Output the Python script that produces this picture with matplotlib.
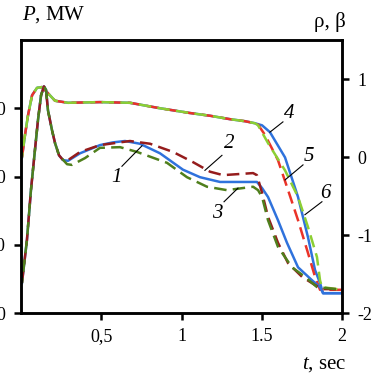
import numpy as np
import matplotlib
matplotlib.use('Agg')
import matplotlib.pyplot as plt

# 時間軸 (sec) と出力 P (MW) のデータ
# 上側グループ (4, 5, 6) の共通部分
t_up = [0.006, 0.025, 0.044, 0.069, 0.10, 0.131, 0.168, 0.212, 0.293, 0.492,
        0.679, 0.866, 1.053, 1.178, 1.302, 1.396, 1.458]
p_up = [228, 261, 290, 319, 330, 331, 322, 311, 308, 309,
        308, 300, 293, 289, 284, 281, 278]

t4 = [1.502, 1.551, 1.645, 1.726, 1.788, 1.832, 1.863, 1.882, 2.0]
p4 = [275, 265, 228, 170, 111, 63, 44, 29, 29]
t5 = [1.477, 1.520, 1.601, 1.664, 1.726, 1.788, 1.832, 1.863, 2.0]
p5 = [276, 261, 224, 180, 136, 88, 53, 34, 34]
t6 = [1.477, 1.539, 1.645, 1.726, 1.788, 1.844, 1.863, 1.875, 2.0]
p6 = [275, 249, 209, 170, 126, 82, 48, 38, 34]

# 下側グループ (1, 2, 3) の共通部分 (立ち上がり)
t_low = [0.006, 0.037, 0.062, 0.087, 0.106, 0.125, 0.143, 0.156, 0.168,
         0.193, 0.212, 0.237, 0.262]
p_low = [44, 107, 180, 239, 283, 319, 332, 327, 297, 268, 249, 231, 224]

t1 = [0.293, 0.368, 0.492, 0.573, 0.648, 0.741, 0.866, 1.009, 1.115, 1.24,
      1.47, 1.502, 1.539, 1.601, 1.657, 1.726, 1.813, 1.863, 1.882, 2.0]
p1 = [223, 234, 246, 250, 252, 248, 234, 210, 199, 192,
      192, 183, 170, 136, 103, 67, 48, 38, 29, 29]
t2 = [0.293, 0.368, 0.492, 0.679, 0.804, 0.947, 1.072, 1.178, 1.259, 1.446,
      1.47, 1.502, 1.539, 1.601, 1.664, 1.751, 1.832, 1.875, 2.0]
p2 = [224, 236, 246, 252, 248, 236, 221, 207, 202, 205,
      202, 176, 141, 103, 73, 53, 41, 35, 35]
t3 = [0.287, 0.318, 0.399, 0.492, 0.617, 0.723, 0.91, 1.034, 1.159, 1.283,
      1.446, 1.477, 1.502, 1.539, 1.601, 1.688, 1.769, 1.844, 2.0]
p3 = [218, 217, 227, 242, 243, 236, 220, 199, 185, 180,
      185, 180, 170, 136, 97, 67, 53, 38, 34]

x_ticks = [0.5, 1, 1.5, 2]
x_ticklabels = ['0,5', '1', '1.5', '2']
p_ticks = [0, 100, 200, 300]
rho_ticks = [-2, -1, 0, 1]
rho_ticklabels = ['-2', '-1', '0', '1']

blue = '#2f72dc'
red = '#ea3328'
lgreen = '#8ccf33'
dred = '#951c1c'
olive = '#4f7f1c'

plt.rcParams['font.family'] = ['Liberation Serif', 'DejaVu Serif']
plt.rcParams['mathtext.fontset'] = 'custom'
plt.rcParams['mathtext.rm'] = 'Liberation Serif'
plt.rcParams['mathtext.it'] = 'Liberation Serif:italic'

fig = plt.figure(figsize=(3.78, 3.78), dpi=100)
ax = fig.add_axes([21 / 378, 1 - 313 / 378, 321 / 378, 273 / 378])

lw = 1.8
dash = (0, (5, 2.5))
dash_off = (3, (5, 2.5))
# 上側グループ
ax.plot(t_up + t4, p_up + p4, color=blue, lw=lw)
ax.plot(t_up + t5, p_up + p5, color=red, lw=lw, linestyle=dash)
ax.plot(t_up + t6, p_up + p6, color=lgreen, lw=lw, linestyle=dash_off)
# 下側グループ
ax.plot(t_low + t1, p_low + p1, color=blue, lw=lw)
ax.plot(t_low + t2, p_low + p2, color=dred, lw=lw, linestyle=dash)
ax.plot(t_low[:-1] + t3, p_low[:-1] + p3, color=olive, lw=lw, linestyle=dash_off)

ax.set_xlim(0, 2)
ax.set_ylim(0, 400)
ax.set_xticks(x_ticks)
ax.set_xticklabels(x_ticklabels)
ax.set_yticks(p_ticks)

ax2 = ax.twinx()
ax2.set_ylim(-2, 1.5)
ax2.set_yticks(rho_ticks)
ax2.set_yticklabels(rho_ticklabels)

for a in (ax, ax2):
    for s in a.spines.values():
        s.set_linewidth(1.8)
    a.tick_params(width=1.8, length=5, labelsize=13, pad=6)

# 曲線番号と引き出し線
labels = [
    ('1', (0.598, 198), (0.629, 215), (0.754, 245)),
    ('2', (1.296, 248), (1.252, 231), (1.146, 209)),
    ('3', (1.221, 146), (1.265, 163), (1.352, 183)),
    ('4', (1.67, 292), (1.632, 280), (1.551, 265)),
    ('5', (1.794, 229), (1.757, 217), (1.645, 195)),
    ('6', (1.894, 175), (1.875, 163), (1.769, 144)),
]
for txt, pos, p_start, p_end in labels:
    ax.plot([p_start[0], p_end[0]], [p_start[1], p_end[1]], color='black', lw=0.8)
    ax.text(pos[0], pos[1], txt, fontsize=15, style='italic', ha='center', va='center')

fig.text(22 / 378, 1 - 15 / 378, '$\\it{P}$, MW', fontsize=15, va='center', ha='left')
fig.text(346 / 378, 1 - 22 / 378, 'ρ, β', fontsize=15, va='center', ha='right')
fig.text(346 / 378, 1 - 365 / 378, '$\\it{t}$, sec', fontsize=15, va='center', ha='right')

fig.savefig('out.png', dpi=100)
